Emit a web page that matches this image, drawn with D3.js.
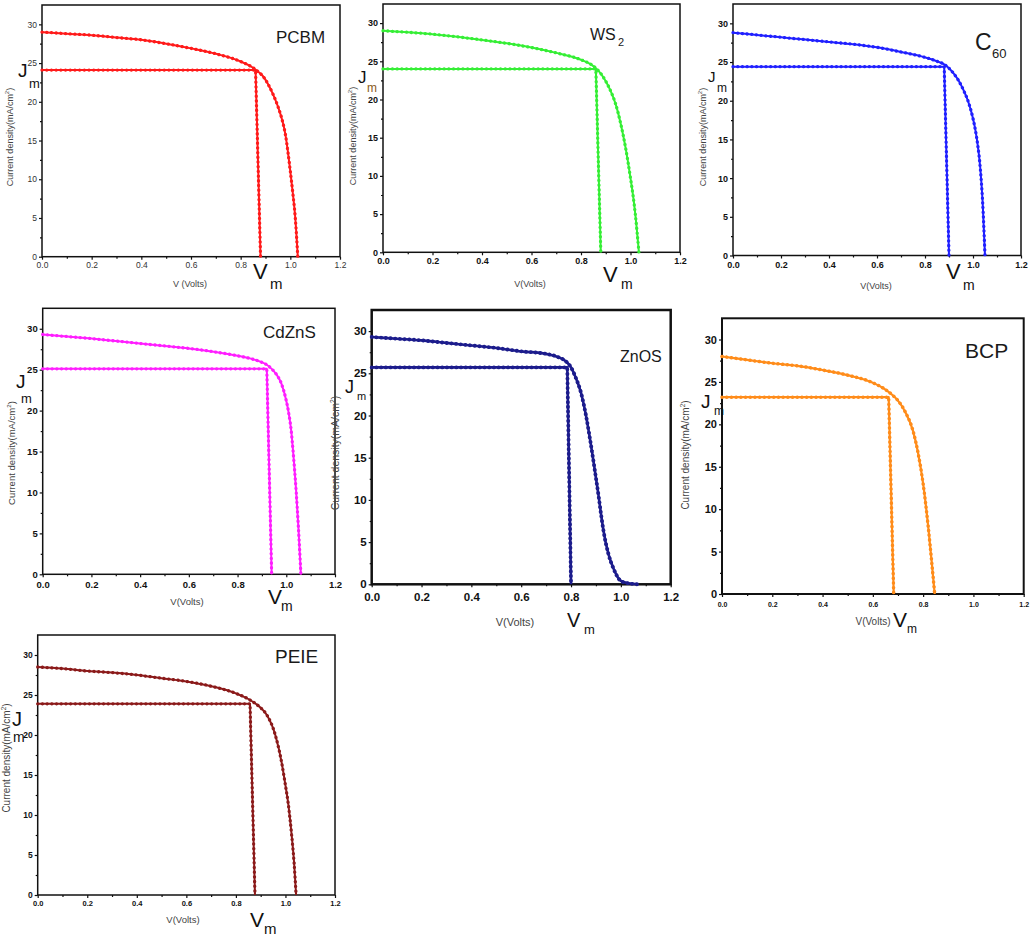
<!DOCTYPE html>
<html>
<head>
<meta charset="utf-8">
<script src="https://cdn.jsdelivr.net/npm/d3@7"></script>
<style>
  body { margin: 0; background: #fff; }
  text { font-family: "Liberation Sans", Arial, sans-serif; }
</style>
</head>
<body>
<script>
// ---- data ----
var materials = ["PCBM", "WS2", "C60", "CdZnS", "ZnOS", "BCP", "PEIE"];
var titleMain = ["PCBM", "WS", "C", "CdZnS", "ZnOS", "BCP", "PEIE"];
var titleSub  = ["", "2", "60", "", "", "", ""];
var xLabels   = ["V (Volts)", "V(Volts)", "V(Volts)", "V(Volts)", "V(Volts)", "V(Volts)", "V(Volts)"];

var xTicks = [0, 0.2, 0.4, 0.6, 0.8, 1.0, 1.2];
var xMinor = [0.1, 0.3, 0.5, 0.7, 0.9, 1.1];
var yTicks = [0, 5, 10, 15, 20, 25, 30];
var yMinor = [2.5, 7.5, 12.5, 17.5, 22.5, 27.5];

var vPCBM = [0, 0.1, 0.2, 0.3, 0.4, 0.5, 0.6, 0.7, 0.8, 0.85, 0.87, 0.89, 0.91, 0.93, 0.95, 0.97, 0.98, 0.99, 1.0, 1.01, 1.02, 1.03];
var jPCBM = [29.0, 28.8, 28.6, 28.3, 28.0, 27.5, 26.9, 26.2, 25.2, 24.4, 23.9, 23.3, 22.3, 21.0, 19.4, 17.3, 15.8, 13.6, 11.0, 8.2, 5.0, 0];

var vWS2 = [0, 0.1, 0.2, 0.3, 0.4, 0.5, 0.6, 0.7, 0.8, 0.84, 0.86, 0.88, 0.9, 0.92, 0.94, 0.96, 0.98, 0.99, 1.0, 1.01, 1.02, 1.034];
var jWS2 = [29.0, 28.8, 28.55, 28.2, 27.8, 27.35, 26.8, 26.1, 25.2, 24.6, 24.1, 23.4, 22.4, 21.1, 19.4, 16.9, 13.7, 11.8, 9.7, 7.5, 4.8, 0];

var vC60 = [0, 0.1, 0.2, 0.3, 0.4, 0.5, 0.6, 0.7, 0.8, 0.85, 0.88, 0.9, 0.92, 0.94, 0.96, 0.98, 1.0, 1.01, 1.02, 1.03, 1.04, 1.05];
var jC60 = [28.8, 28.5, 28.2, 27.9, 27.6, 27.3, 26.9, 26.3, 25.6, 25.1, 24.7, 24.2, 23.5, 22.6, 21.4, 19.9, 17.7, 16.2, 14.2, 11.4, 7.0, 0];

var vCdZnS = [0, 0.1, 0.2, 0.3, 0.4, 0.5, 0.6, 0.7, 0.8, 0.86, 0.9, 0.92, 0.94, 0.96, 0.98, 1.0, 1.01, 1.02, 1.03, 1.04, 1.05, 1.06];
var jCdZnS = [29.3, 29.05, 28.8, 28.5, 28.2, 27.9, 27.6, 27.2, 26.7, 26.3, 25.9, 25.6, 25.1, 24.4, 23.3, 21.2, 19.7, 17.6, 14.3, 10.4, 5.6, 0];

var vZnOS = [0, 0.1, 0.2, 0.3, 0.4, 0.5, 0.6, 0.7, 0.75, 0.78, 0.8, 0.82, 0.84, 0.86, 0.88, 0.89, 0.9, 0.91, 0.92, 0.93, 0.95, 0.97, 1.0, 1.03, 1.07];
var jZnOS = [29.3, 29.1, 28.9, 28.6, 28.3, 28.0, 27.6, 27.3, 26.9, 26.4, 25.7, 24.4, 22.7, 20.0, 16.5, 14.6, 12.6, 10.6, 8.4, 6.4, 3.6, 1.9, 0.4, 0.12, 0];

var vBCP = [0, 0.1, 0.2, 0.3, 0.4, 0.5, 0.6, 0.65, 0.68, 0.7, 0.73, 0.76, 0.78, 0.8, 0.82, 0.835, 0.846];
var jBCP = [28.0, 27.6, 27.2, 26.9, 26.4, 25.8, 24.9, 24.1, 23.4, 22.8, 21.4, 19.2, 16.6, 13.0, 8.0, 3.5, 0];

var vPEIE = [0, 0.1, 0.2, 0.3, 0.4, 0.5, 0.6, 0.7, 0.8, 0.85, 0.88, 0.9, 0.925, 0.96, 0.985, 1.0, 1.01, 1.025, 1.035, 1.043];
var jPEIE = [28.5, 28.3, 28.0, 27.8, 27.5, 27.1, 26.7, 26.1, 25.2, 24.5, 23.9, 23.4, 22.5, 19.9, 16.5, 13.7, 11.7, 7.5, 4.0, 0];

var voltages = [vPCBM, vWS2, vC60, vCdZnS, vZnOS, vBCP, vPEIE];
var currents = [jPCBM, jWS2, jC60, jCdZnS, jZnOS, jBCP, jPEIE];

// maximum power point: Jm and the two ends of the Vm drop line
var jmVals   = [24.1, 24.0, 24.4, 25.1, 25.7, 23.2, 23.9];
var vmTop    = [0.86, 0.86, 0.88, 0.92, 0.785, 0.663, 0.857];
var vmBottom = [0.88, 0.88, 0.90, 0.94, 0.80, 0.683, 0.877];

// ---- layout and style (pixels) ----
var colors = ["#ff1a1a", "#35ee35", "#2020ff", "#ff1eff", "#1c1c8c", "#ff8c1a", "#8b1a1a"];

var layout = [
    { frame: [42, 5, 340, 256.7], fw: 1.5, lw: 2, tick: 8.5, xtick: 8.5, xpad: 2, bold: false,
      ylab: [13, 137, 9], xlab: [190, 287, 9],
      title: [276, 43, 17], sub: null,
      J: [18, 77, 19], Jm: [29, 88, 13], V: [253, 279, 22], Vm: [270, 289, 15] },
    { frame: [383, 4, 680, 252.3], fw: 1.5, lw: 2, tick: 9, xtick: 9, xpad: 2, bold: true,
      ylab: [356, 136, 9], xlab: [530, 287, 9],
      title: [590, 40, 16], sub: [618, 46, 11],
      J: [358, 83, 17], Jm: [367, 92, 12], V: [603, 282, 22], Vm: [621, 289, 14] },
    { frame: [733, 4, 1021, 255.5], fw: 1.5, lw: 2, tick: 9, xtick: 9, xpad: 3, bold: true,
      ylab: [706, 137, 9], xlab: [876, 289, 9],
      title: [975, 50, 23], sub: [992, 58, 13],
      J: [708, 82, 15], Jm: [717, 92, 12], V: [946, 279, 22], Vm: [963, 290, 14] },
    { frame: [42.7, 308.3, 335, 574.3], fw: 1.5, lw: 2, tick: 9.5, xtick: 9.5, xpad: 4, bold: true,
      ylab: [15, 453, 9.5], xlab: [187, 605, 9.5],
      title: [263, 338, 17], sub: null,
      J: [16, 388, 19], Jm: [21, 403, 13], V: [268, 604, 21], Vm: [281, 611, 14] },
    { frame: [371.7, 310, 670.7, 584.3], fw: 2.5, lw: 2.6, tick: 11.5, xtick: 11.5, xpad: 6, bold: true,
      ylab: [339, 453, 10.5], xlab: [515, 626, 11],
      title: [620, 362, 16], sub: null,
      J: [345, 393, 18], Jm: [357, 400, 11], V: [567, 627, 20], Vm: [584, 634, 13] },
    { frame: [722, 318.3, 1023.7, 594], fw: 2, lw: 2.2, tick: 11, xtick: 7, xpad: 5, bold: true,
      ylab: [689, 455, 10], xlab: [873, 625, 10],
      title: [965, 358, 21], sub: null,
      J: [701, 408, 19], Jm: [714, 415, 12], V: [893, 627, 21], Vm: [907, 633, 12] },
    { frame: [37.7, 635, 335, 895], fw: 1.5, lw: 2, tick: 8.5, xtick: 7.5, xpad: 3, bold: true,
      ylab: [10, 758, 10], xlab: [183, 923, 9.5],
      title: [275, 663, 19], sub: null,
      J: [12, 726, 20], Jm: [13, 742, 14], V: [250, 927, 21], Vm: [264, 934, 15] }
];

var svg = d3.select("body")
    .append("svg")
    .attr("width", 1032)
    .attr("height", 937);

function addText(g, pos, str, opts) {
    opts = opts || {};
    return g.append("text")
        .attr("x", pos[0])
        .attr("y", pos[1])
        .attr("font-size", pos[2])
        .attr("fill", opts.fill || "#1a1a1a")
        .attr("font-weight", opts.weight || "normal")
        .attr("text-anchor", opts.anchor || "start")
        .text(str);
}

function drawPanel(i) {
    var L = layout[i];
    var f = L.frame;
    var x = d3.scaleLinear().domain([0, 1.2]).range([f[0], f[2]]);
    var y = d3.scaleLinear().domain([0, 32.5]).range([f[3], f[1]]);
    var g = svg.append("g").attr("class", "panel-" + materials[i]);
    var weight = L.bold ? "bold" : "normal";

    // major and minor ticks, labels
    var xAxis = g.append("g")
        .attr("transform", "translate(0," + f[3] + ")")
        .call(d3.axisBottom(x).tickValues(xTicks).tickSize(3).tickPadding(L.xpad)
            .tickFormat(d3.format(".1f")));
    var xMin = g.append("g")
        .attr("transform", "translate(0," + f[3] + ")")
        .call(d3.axisBottom(x).tickValues(xMinor).tickSize(2).tickFormat(""));
    var yAxis = g.append("g")
        .attr("transform", "translate(" + f[0] + ",0)")
        .call(d3.axisLeft(y).tickValues(yTicks).tickSize(3).tickPadding(2));
    var yMin = g.append("g")
        .attr("transform", "translate(" + f[0] + ",0)")
        .call(d3.axisLeft(y).tickValues(yMinor).tickSize(2).tickFormat(""));

    [xAxis, xMin, yAxis, yMin].forEach(function (a) {
        a.select(".domain").remove();
        a.selectAll("line").attr("stroke", "#111").attr("stroke-width", 1.2);
    });
    xAxis.selectAll("text")
        .attr("font-size", L.xtick)
        .attr("font-weight", weight)
        .attr("fill", L.bold ? "#111" : "#333")
        .attr("font-family", "Liberation Sans, Arial, sans-serif");
    yAxis.selectAll("text")
        .attr("font-size", L.tick)
        .attr("font-weight", weight)
        .attr("fill", L.bold ? "#111" : "#333")
        .attr("font-family", "Liberation Sans, Arial, sans-serif");

    // frame
    g.append("rect")
        .attr("x", f[0])
        .attr("y", f[1])
        .attr("width", f[2] - f[0])
        .attr("height", f[3] - f[1])
        .attr("fill", "none")
        .attr("stroke", "#111")
        .attr("stroke-width", L.fw);

    // J-V curve
    var pts = voltages[i].map(function (v, k) { return [v, currents[i][k]]; });
    var line = d3.line()
        .x(function (d) { return x(d[0]); })
        .y(function (d) { return y(d[1]); })
        .curve(d3.curveMonotoneX);

    // max power point lines
    var mpp = [[0, jmVals[i]], [vmTop[i], jmVals[i]], [vmBottom[i], 0]];
    var lin = d3.line()
        .x(function (d) { return x(d[0]); })
        .y(function (d) { return y(d[1]); });

    [lin(mpp), line(pts)].forEach(function (p) {
        g.append("path")
            .attr("d", p)
            .attr("fill", "none")
            .attr("stroke", colors[i])
            .attr("stroke-width", L.lw)
            .attr("stroke-linejoin", "round");
        // the small data markers along the line
        g.append("path")
            .attr("d", p)
            .attr("fill", "none")
            .attr("stroke", colors[i])
            .attr("stroke-width", L.lw + 1.3)
            .attr("stroke-linecap", "round")
            .attr("stroke-dasharray", "0.1,4.6");
    });

    // axis titles
    var yl = g.append("text")
        .attr("transform", "translate(" + L.ylab[0] + "," + L.ylab[1] + ") rotate(-90)")
        .attr("text-anchor", "middle")
        .attr("font-size", L.ylab[2])
        .attr("fill", "#444");
    yl.append("tspan").text("Current density(mA/cm");
    yl.append("tspan").attr("dy", -L.ylab[2] * 0.4).attr("font-size", L.ylab[2] * 0.65).text("2");
    yl.append("tspan").attr("dy", L.ylab[2] * 0.4).text(")");

    addText(g, L.xlab, xLabels[i], { anchor: "middle", fill: "#444" });

    // panel title
    addText(g, L.title, titleMain[i], { fill: "#1a1a1a" });
    if (L.sub) addText(g, L.sub, titleSub[i], { fill: "#1a1a1a" });

    // Jm and Vm marks
    addText(g, L.J, "J", { fill: "#111" });
    addText(g, L.Jm, "m", { fill: i === 1 ? "#8a5a20" : "#111" });
    addText(g, L.V, "V", { fill: "#111" });
    addText(g, L.Vm, "m", { fill: "#111" });
}

materials.forEach(function (m, i) { drawPanel(i); });
</script>
</body>
</html>
